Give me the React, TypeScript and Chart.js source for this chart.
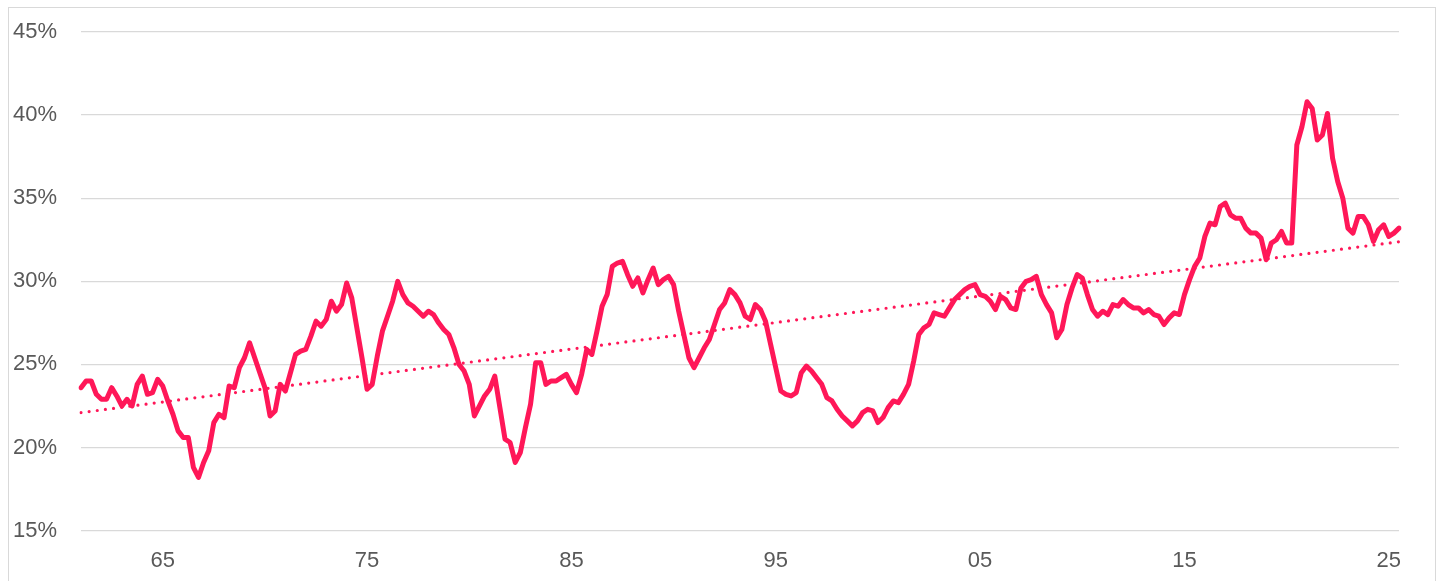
import React, { useEffect, useRef } from "react";
import { Chart, registerables } from "chart.js";

Chart.register(...registerables);

const startYear = 1961;
const tickYears = [1965, 1975, 1985, 1995, 2005, 2015, 2025];
const tickLabels = ["65", "75", "85", "95", "05", "15", "25"];
const yTicks = [15, 20, 25, 30, 35, 40, 45];

// Quarterly share (%) 1961Q1 .. 2025Q3
const shareValues = [
  23.6, 24.0, 24.0, 23.2, 22.9, 22.9, 23.6, 23.1, 22.5, 22.9,
  22.5, 23.8, 24.3, 23.2, 23.3, 24.1, 23.7, 22.8, 22.0, 21.0,
  20.6, 20.6, 18.8, 18.2, 19.1, 19.8, 21.5, 22.0, 21.8, 23.7,
  23.6, 24.8, 25.4, 26.3, 25.4, 24.5, 23.6, 21.9, 22.2, 23.8,
  23.4, 24.5, 25.6, 25.8, 25.9, 26.7, 27.6, 27.3, 27.7, 28.8,
  28.2, 28.6, 29.9, 29.0, 27.2, 25.4, 23.5, 23.8, 25.5, 27.0,
  27.9, 28.8, 30.0, 29.2, 28.7, 28.5, 28.2, 27.9, 28.2, 28.0,
  27.5, 27.1, 26.8, 26.0, 25.0, 24.6, 23.8, 21.9, 22.5, 23.1,
  23.5, 24.3, 22.4, 20.5, 20.3, 19.1, 19.7, 21.2, 22.6, 25.1,
  25.1, 23.8, 24.0, 24.0, 24.2, 24.4, 23.8, 23.3, 24.4, 25.9,
  25.6, 27.0, 28.5, 29.2, 30.9, 31.1, 31.2, 30.4, 29.7, 30.2,
  29.3, 30.1, 30.8, 29.8, 30.1, 30.3, 29.8, 28.2, 26.8, 25.4,
  24.8, 25.4, 26.0, 26.5, 27.4, 28.3, 28.7, 29.5, 29.2, 28.7,
  27.9, 27.7, 28.6, 28.3, 27.6, 26.2, 24.8, 23.4, 23.2, 23.1,
  23.3, 24.5, 24.9, 24.6, 24.2, 23.8, 23.0, 22.8, 22.3, 21.9,
  21.6, 21.3, 21.6, 22.1, 22.3, 22.2, 21.5, 21.8, 22.4, 22.8,
  22.7, 23.2, 23.8, 25.2, 26.8, 27.2, 27.4, 28.1, 28.0, 27.9,
  28.4, 28.9, 29.2, 29.5, 29.7, 29.8, 29.2, 29.1, 28.8, 28.3,
  29.1, 28.9, 28.4, 28.3, 29.6, 30.0, 30.1, 30.3, 29.2, 28.6,
  28.1, 26.6, 27.1, 28.6, 29.6, 30.4, 30.2, 29.2, 28.3, 27.9,
  28.2, 28.0, 28.6, 28.5, 28.9, 28.6, 28.4, 28.4, 28.1, 28.3,
  28.0, 27.9, 27.4, 27.8, 28.1, 28.0, 29.2, 30.1, 30.9, 31.4,
  32.7, 33.5, 33.4, 34.5, 34.7, 34.0, 33.8, 33.8, 33.2, 32.9,
  32.9, 32.6, 31.3, 32.3, 32.5, 33.0, 32.3, 32.3, 38.2, 39.3,
  40.8, 40.4, 38.5, 38.8, 40.1, 37.4, 36.0, 35.0, 33.2, 32.9,
  33.9, 33.9, 33.4, 32.4, 33.1, 33.4, 32.7, 32.9, 33.2,
];

// Linear trend line: value at first and last quarter
const trendEnds = [22.1, 32.38];

const lineColor = "#ff1758";

export default function App() {
  const canvasRef = useRef<HTMLCanvasElement | null>(null);

  useEffect(() => {
    if (!canvasRef.current) return;
    const labels: string[] = [];
    for (let i = 0; i < shareValues.length; i++) {
      const y = startYear + Math.floor(i / 4);
      const q = (i % 4) + 1;
      labels.push(`${y}Q${q}`);
    }
    const trendData: (number | null)[] = shareValues.map(() => null);
    trendData[0] = trendEnds[0];
    trendData[trendData.length - 1] = trendEnds[1];

    const chart = new Chart(canvasRef.current, {
      type: "line",
      data: {
        labels,
        datasets: [
          {
            data: shareValues,
            borderColor: lineColor,
            backgroundColor: lineColor,
            borderWidth: 5,
            pointRadius: 0,
            tension: 0,
            borderJoinStyle: "round",
            borderCapStyle: "round",
            order: 1,
          },
          {
            data: trendData,
            borderColor: lineColor,
            borderWidth: 3.2,
            borderDash: [0, 8.2],
            borderCapStyle: "round",
            pointRadius: 0,
            spanGaps: true,
            order: 2,
          },
        ],
      },
      options: {
        responsive: false,
        animation: false,
        layout: { padding: { left: 4, right: 36, top: 24, bottom: 9 } },
        plugins: { legend: { display: false }, tooltip: { enabled: false } },
        scales: {
          x: {
            type: "category",
            offset: false,
            grid: { display: false, drawTicks: false, tickLength: 0 },
            border: { display: false },
            ticks: {
              autoSkip: false,
              maxRotation: 0,
              minRotation: 0,
              padding: 17,
              color: "#595959",
              font: { family: "'Liberation Sans', Arial, sans-serif", size: 22 },
              callback: (_v: any, idx: number) => {
                const y = startYear + Math.floor(idx / 4);
                const q = idx % 4;
                const k = tickYears.indexOf(y);
                return q === 0 && k >= 0 ? tickLabels[k] : "";
              },
            },
          },
          y: {
            min: yTicks[0],
            max: yTicks[yTicks.length - 1],
            afterFit: (scale: any) => {
              scale.width = 68;
            },
            afterBuildTicks: (scale: any) => {
              scale.ticks = yTicks.map((v) => ({ value: v }));
            },
            grid: { color: "#d9d9d9", lineWidth: 1.2, drawTicks: false, tickLength: 0 },
            border: { display: false },
            ticks: {
              crossAlign: "far",
              padding: 0,
              color: "#595959",
              font: { family: "'Liberation Sans', Arial, sans-serif", size: 22 },
              callback: (v: any) => `${v}%`,
            },
          },
        },
      },
    });
    return () => chart.destroy();
  }, []);

  return (
    <div
      style={{
        position: "fixed",
        left: 8,
        top: 7,
        width: 1428,
        height: 574,
        overflow: "hidden",
        boxSizing: "border-box",
        borderTop: "1px solid #d9d9d9",
        borderLeft: "1px solid #d9d9d9",
        borderRight: "1px solid #d9d9d9",
        borderBottom: "none",
        background: "#fff",
      }}
    >
      <canvas ref={canvasRef} width={1426} height={592} style={{ display: "block" }} />
    </div>
  );
}
